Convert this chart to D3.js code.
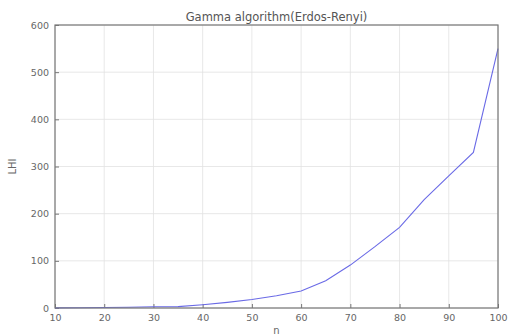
<!DOCTYPE html>
<html><head><meta charset="utf-8">
<script src="https://cdn.jsdelivr.net/npm/d3@7"></script>
<style>body{margin:0;background:#fff}svg{display:block}</style>
</head><body>
<script>
const nValues = [10,15,20,25,30,35,40,45,50,55,60,65,70,75,80,85,90,95,100];
const lhiValues = [0.3,0.6,1,1.5,2.5,3,7,12,18,26,36,58,91,130,171,230,280,330,550];
const xTicks = [10,20,30,40,50,60,70,80,90,100];
const yTicks = [0,100,200,300,400,500,600];
const title = "Gamma algorithm(Erdos-Renyi)";
const xLabel = "n";
const yLabel = "LHI";

const W=509,H=336, m={l:55,r:11,t:25,b:28};
const svg=d3.select("body").append("svg").attr("width",W).attr("height",H);
const x=d3.scaleLinear().domain([10,100]).range([m.l,W-m.r]);
const y=d3.scaleLinear().domain([0,600]).range([H-m.b,m.t]);
const font="DejaVu Sans, sans-serif";
// grid
svg.append("g").selectAll("line").data(xTicks).join("line")
 .attr("x1",d=>x(d)).attr("x2",d=>x(d)).attr("y1",y(0)).attr("y2",y(600))
 .attr("stroke","#e2e2e2").attr("stroke-width",0.8);
svg.append("g").selectAll("line").data(yTicks).join("line")
 .attr("y1",d=>y(d)).attr("y2",d=>y(d)).attr("x1",x(10)).attr("x2",x(100))
 .attr("stroke","#e2e2e2").attr("stroke-width",0.8);
// axes
const xa=svg.append("g").attr("transform",`translate(0,${y(0)})`)
 .call(d3.axisBottom(x).tickValues(xTicks).tickSizeInner(-4).tickSizeOuter(0).tickPadding(6));
const ya=svg.append("g").attr("transform",`translate(${x(10)},0)`)
 .call(d3.axisLeft(y).tickValues(yTicks).tickSizeInner(-4).tickSizeOuter(0).tickPadding(6));
[xa,ya].forEach(a=>{a.select(".domain").remove();a.selectAll("line").attr("stroke","#777");
 a.selectAll("text").attr("fill","#666").style("font-family",font).style("font-size","9.5px");});
// line
svg.append("path").datum(nValues.map((n,i)=>[n,lhiValues[i]]))
 .attr("d",d3.line().x(d=>x(d[0])).y(d=>y(d[1])))
 .attr("fill","none").attr("stroke","#6a6ae6").attr("stroke-width",1.1);
// frame
svg.append("rect").attr("x",x(10)).attr("y",y(600)).attr("width",x(100)-x(10)).attr("height",y(0)-y(600))
 .attr("fill","none").attr("stroke","#777").attr("stroke-width",1.2);
svg.append("text").attr("x",(x(10)+x(100))/2).attr("y",21).attr("text-anchor","middle")
 .style("font-family",font).style("font-size","11.5px").attr("fill","#555").text(title);
svg.append("text").attr("x",(x(10)+x(100))/2).attr("y",H-2).attr("text-anchor","middle")
 .style("font-family",font).style("font-size","10px").attr("fill","#666").text(xLabel);
svg.append("text").attr("transform",`translate(16,${(y(0)+y(600))/2}) rotate(-90)`).attr("text-anchor","middle")
 .style("font-family",font).style("font-size","10px").attr("fill","#666").text(yLabel);
</script>
</body></html>
